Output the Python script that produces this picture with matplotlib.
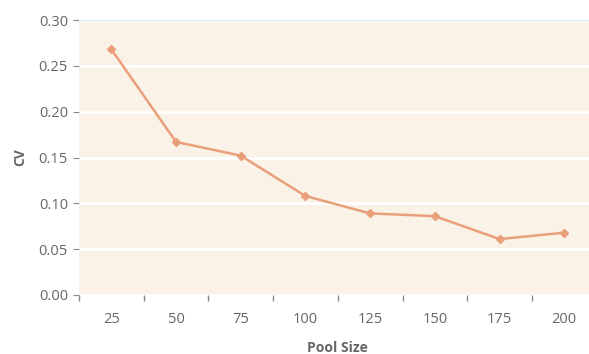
import matplotlib.pyplot as plt

plt.rcParams['font.family'] = ['Open Sans', 'DejaVu Sans']

pool_size = ["25", "50", "75", "100", "125", "150", "175", "200"]
cv = [0.268, 0.167, 0.152, 0.108, 0.089, 0.086, 0.061, 0.068]

line_col = "#E9A07A"
text_col = "#666666"

fig = plt.figure(figsize=(5.89, 3.54), dpi=100)
ax = fig.add_axes([79 / 589, (354 - 295) / 354, (596.6 - 79) / 589, 275 / 354])
ax.set_facecolor("#FAF1E7")

x = range(len(pool_size))
ax.plot(x, cv, color=line_col, lw=1.8, marker="D", ms=4.5,
        markerfacecolor=line_col, markeredgecolor=line_col, zorder=3)

ax.set_xlim(-0.5, len(pool_size) - 0.5)
ax.set_ylim(0, 0.30)
ax.set_yticks([0, 0.05, 0.10, 0.15, 0.20, 0.25, 0.30])
ax.set_yticklabels(["%.2f" % v for v in ax.get_yticks()])
ax.set_xticks(list(x))
ax.set_xticklabels(pool_size)
ax.set_xticks([i - 0.5 for i in range(len(pool_size) + 1)], minor=True)
ax.tick_params(axis="x", which="major", length=0, pad=12, labelsize=10.5, labelcolor=text_col)
ax.tick_params(axis="x", which="minor", length=4, color="#888888", width=1)
ax.tick_params(axis="y", length=4, color="#888888", labelsize=10.5, labelcolor=text_col, pad=4)

ax.grid(axis="y", color="white", lw=2)
ax.set_axisbelow(True)
for s in ax.spines.values():
    s.set_visible(False)
ax.axhline(0.30, color="#DDEEF6", lw=1, zorder=2)

ax.set_xlabel("Pool Size", fontsize=10, fontweight="bold", color=text_col, labelpad=10)
ax.set_ylabel("CV", fontsize=10, fontweight="bold", color=text_col, labelpad=8)

fig.savefig("out.png", dpi=100)
